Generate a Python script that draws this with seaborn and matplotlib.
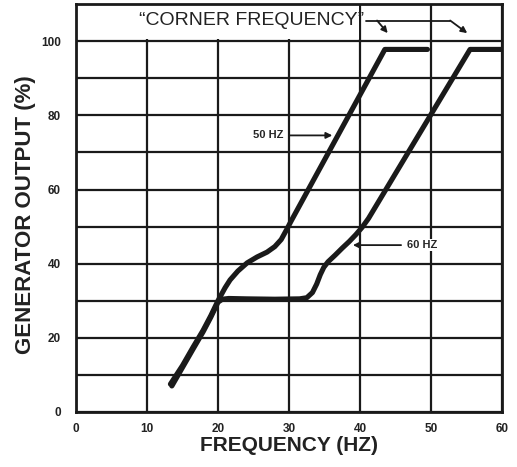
import matplotlib
matplotlib.use("Agg")
import matplotlib.pyplot as plt
from matplotlib.patches import Rectangle
import seaborn as sns
import pandas as pd

# values
freq_50 = [13.3, 15.0, 16.5, 17.9, 19.0, 20.0, 21.0, 21.7, 22.8, 24.1, 25.5, 26.9, 28.0,
           28.9, 29.7, 30.3, 43.5, 49.5]
out_50 = [7.5, 12.5, 17.5, 22.0, 26.0, 30.0, 33.5, 35.6, 38.0, 40.2, 41.8, 43.1, 44.6,
          46.5, 49.3, 51.5, 97.8, 97.8]

freq_60 = [13.5, 15.0, 16.5, 17.9, 19.0, 20.0, 20.6, 21.5, 24.0, 28.0, 31.5, 32.5, 33.3,
           33.9, 34.4, 34.9, 35.5, 36.5, 37.5, 38.5, 39.4, 40.3, 41.2, 55.5, 60.0]
out_60 = [7.0, 12.0, 17.0, 21.6, 25.6, 29.6, 30.4, 30.6, 30.5, 30.4, 30.5, 30.8, 32.2,
          34.5, 37.0, 39.0, 40.5, 42.3, 44.2, 46.0, 47.8, 49.8, 52.2, 97.8, 97.8]

x_ticks = [0, 10, 20, 30, 40, 50, 60]
y_ticks = [0, 20, 40, 60, 80, 100]

df = pd.concat([
    pd.DataFrame({"freq": freq_50, "output": out_50, "series": "50 HZ"}),
    pd.DataFrame({"freq": freq_60, "output": out_60, "series": "60 HZ"}),
], ignore_index=True)

sns.set_style("white")
plt.rcParams["font.family"] = ["Liberation Sans", "DejaVu Sans"]

fig = plt.figure(figsize=(5.17, 4.67), dpi=100)
ax = fig.add_axes([0.147, 0.118, 0.824, 0.873])

sns.lineplot(data=df, x="freq", y="output", hue="series", units="series", estimator=None,
             sort=False, palette=["#1a1a1a", "#1a1a1a"], linewidth=3.7, legend=False, ax=ax,
             zorder=3)
for ln in ax.get_lines():
    ln.set_solid_joinstyle("round")

ax.set_xlim(0, 60)
ax.set_ylim(0, 110)
ax.set_xticks(x_ticks)
ax.set_yticks(y_ticks)
ax.set_xticks(range(10, 60, 10), minor=True)
ax.set_yticks(range(10, 110, 10), minor=True)
ax.grid(True, which="both", color="#1a1a1a", linewidth=1.6)
ax.set_axisbelow(True)
ax.tick_params(which="both", length=0)
ax.tick_params(axis="y", pad=11, labelsize=8.5)
ax.tick_params(axis="x", pad=8, labelsize=8.5)
for lab in ax.get_xticklabels() + ax.get_yticklabels():
    lab.set_fontweight("bold")
    lab.set_color("#222222")
for sp in ax.spines.values():
    sp.set_linewidth(2.0)
    sp.set_color("#1a1a1a")

ax.set_xlabel("FREQUENCY (HZ)", fontsize=15, fontweight="bold", color="#222222", labelpad=1)
ax.set_ylabel("GENERATOR OUTPUT (%)", fontsize=16, fontweight="bold", color="#222222")
ax.yaxis.set_label_coords(-0.094, 0.483)

# white header box over the top band
ax.add_patch(Rectangle((0.2, 100.5), 39.6, 9.3, facecolor="white", edgecolor="none", zorder=1))
ax.text(24.7, 105.6, "\u201cCORNER FREQUENCY\u201d", fontsize=14, ha="center", va="center",
        color="#222222", zorder=4)

# corner frequency pointers
arr = dict(arrowstyle="-|>", color="#1a1a1a", lw=1.3, mutation_scale=9, shrinkA=0, shrinkB=0)
ax.plot([40.8, 52.7], [105.6, 105.6], color="#1a1a1a", lw=1.3, zorder=4)
ax.annotate("", xy=(43.9, 102.2), xytext=(42.4, 105.6), arrowprops=arr, zorder=4)
ax.annotate("", xy=(55.1, 102.2), xytext=(52.7, 105.6), arrowprops=arr, zorder=4)

# curve labels
lab_arr = dict(arrowstyle="-|>", color="#1a1a1a", lw=1.3, mutation_scale=9, shrinkA=3, shrinkB=0)
ax.annotate("50 HZ", xy=(36.1, 74.6), xytext=(27.1, 74.6), ha="center", va="center",
            fontsize=8, fontweight="bold", arrowprops=lab_arr, zorder=4,
            bbox=dict(facecolor="white", edgecolor="none", pad=1))
ax.annotate("60 HZ", xy=(39.0, 45.0), xytext=(48.7, 45.0), ha="center", va="center",
            fontsize=8, fontweight="bold", arrowprops=lab_arr, zorder=4,
            bbox=dict(facecolor="white", edgecolor="none", pad=1))

fig.savefig("out.png", dpi=100)
